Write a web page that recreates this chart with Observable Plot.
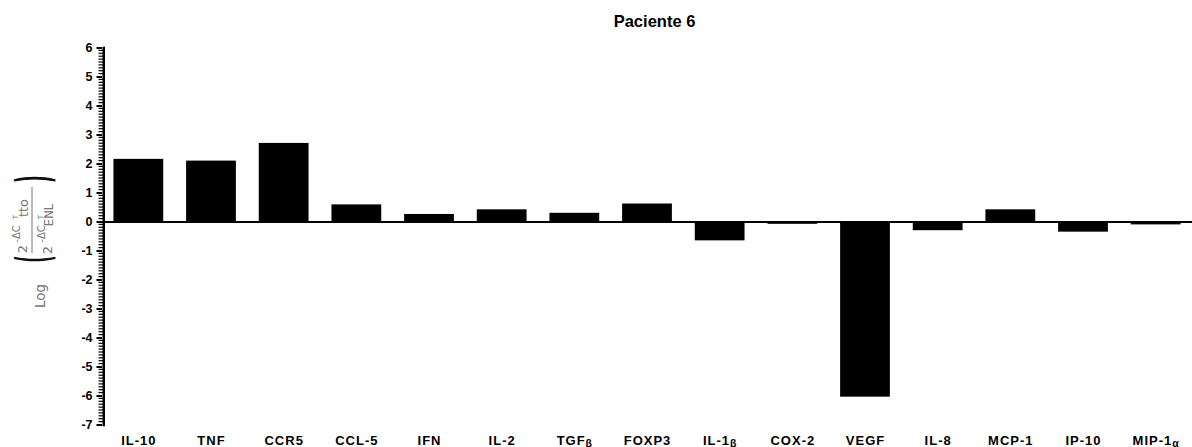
<!DOCTYPE html>
<html><head><meta charset="utf-8">
<script src="https://cdn.jsdelivr.net/npm/d3@7"></script>
<script src="https://cdn.jsdelivr.net/npm/@observablehq/plot@0.6"></script>
<style>html,body{margin:0;padding:0;background:#fff} #chart svg{display:block}</style>
</head><body><div id="chart"></div>
<script>
const genes = ["IL-10","TNF","CCR5","CCL-5","IFN","IL-2","TGFβ","FOXP3","IL-1β","COX-2","VEGF","IL-8","MCP-1","IP-10","MIP-1α"];
const values = [2.16,2.10,2.71,0.59,0.26,0.42,0.30,0.62,-0.65,-0.08,-6.04,-0.30,0.42,-0.35,-0.10];
const yTicks = d3.range(-7, 7);
const yMinor = d3.range(-70, 61).filter(d => d % 10 !== 0).map(d => d / 10);
const title = "Paciente 6";
const data = genes.map((g, i) => ({gene: g, value: values[i]}));

const W = 1192, mL = 102, mR = 0;
const plot = Plot.plot({
  width: W, height: 447,
  marginLeft: mL, marginRight: mR, marginTop: 47.5, marginBottom: 22.5,
  style: {fontFamily: "'Liberation Sans', Arial, sans-serif", background: "#fff", overflow: "visible", color: "#000"},
  x: {domain: genes, paddingInner: 0.315, paddingOuter: 0.1575, round: false, label: null},
  y: {domain: [-7, 6], label: null},
  marks: [
    Plot.barY(data, {x: "gene", y: "value", fill: "#000"}),
    Plot.ruleY([0], {stroke: "#000", strokeWidth: 2}),
    Plot.frame({anchor: "left", stroke: "#000", strokeWidth: 2.5, dx: 1.25}),
    Plot.axisY({ticks: yTicks, tickSize: 5.5, tickPadding: 4.5, tickFormat: d => String(d), strokeWidth: 2, fontSize: 12.5, fontWeight: "bold", label: null}),
    Plot.axisX({tickSize: 0, tickPadding: 11, fontSize: 13, fontWeight: "bold", label: null}),
    Plot.text([title], {frameAnchor: "top", dy: -26.5, dx: 7, text: d => d, fontSize: 16.5, fontWeight: "bold", lineAnchor: "middle"})
  ]
});
document.getElementById("chart").appendChild(plot);

const svg = d3.select(plot);
// minor ticks on the y axis, positioned with Plot's y scale
const ys = plot.scale("y");
const minorG = svg.append("g").attr("stroke", "#000").attr("stroke-width", 1.2);
yMinor.forEach(v => {
  const y = ys.apply(v);
  minorG.append("line").attr("x1", mL - 3.5).attr("x2", mL + 1).attr("y1", y).attr("y2", y);
});

// x tick labels: letter spacing and small greek suffix
svg.selectAll('g[aria-label="x-axis tick label"] text').each(function() {
  const t = d3.select(this);
  const s = t.text();
  t.attr("letter-spacing", 1);
  const m = s.match(/^(.*?)([αβ])$/);
  if (m) {
    t.text(m[1]);
    t.append("tspan").attr("font-size", 10.5).attr("dy", 1.5).text(m[2]);
  }
});

// rotated y-axis label: Log( 2^-ΔCT tto / 2^-ΔCT ENL )
const lab = svg.append("g").attr("fill", "#777").attr("font-family", "'DejaVu Sans', sans-serif");
function rtext(px, py, str, size, extra) {
  const t = lab.append("text").attr("transform", `translate(${px},${py}) rotate(-90)`).attr("font-size", size).text(str);
  if (extra) extra(t);
  return t;
}
rtext(45, 296, "Log", 13.5);
const paren = (cx, cy, ch) => rtext(cx, cy, ch, 46, t => t
  .attr("text-anchor", "middle").attr("dominant-baseline", "central")
  .attr("transform", `translate(${cx},${cy}) rotate(-90) scale(0.35,1)`)
  .attr("font-weight", "bold").attr("fill", "#111"));
paren(33, 259, "(");
paren(33, 179, ")");
lab.append("line").attr("x1", 32).attr("x2", 32).attr("y1", 187).attr("y2", 253).attr("stroke", "#777").attr("stroke-width", 1);
// numerator
rtext(27, 249, "2", 13);
rtext(20, 234, "-ΔC", 10);
rtext(18, 217, "T", 7);
rtext(28, 208, "tto", 13);
// denominator
rtext(52, 250, "2", 13);
rtext(45, 234, "-ΔC", 10);
rtext(43, 217, "T", 7);
rtext(53, 215, "ENL", 11.5);
</script>
</body></html>
